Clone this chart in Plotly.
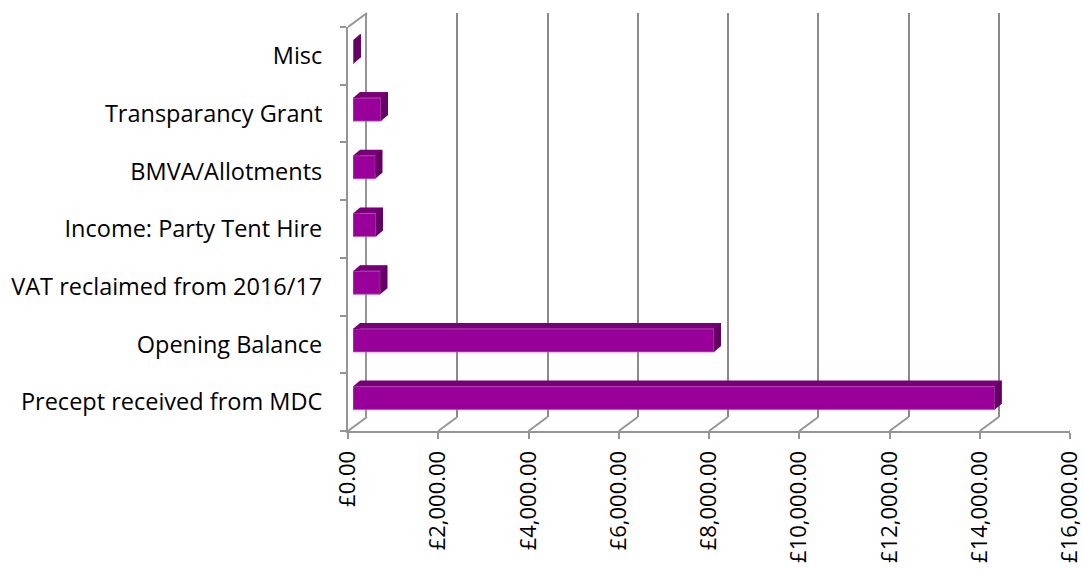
import plotly.graph_objects as go

# ---- data ----
categories = ["Precept received from MDC", "Opening Balance", "VAT reclaimed from 2016/17",
              "Income: Party Tent Hire", "BMVA/Allotments", "Transparancy Grant", "Misc"]
values = [14220, 8000, 605, 510, 494, 620, 15]
tick_values = [0, 2000, 4000, 6000, 8000, 10000, 12000, 14000, 16000]
tick_labels = ["£0.00", "£2,000.00", "£4,000.00", "£6,000.00", "£8,000.00",
               "£10,000.00", "£12,000.00", "£14,000.00", "£16,000.00"]

# ---- geometry ----
W, H = 1084, 569
X0, X1 = 348, 1070          # front plane: pixel of 0 and of 16000
Y0, Y1 = 27, 431            # front plane: top & bottom of category band
XMAX = 16000
S = (X1 - X0) / XMAX        # px per pound
N = len(categories)
BAR_W = 0.4
FRONT_COL = "#990099"
TOP_COL = "#760076"
SIDE_COL = "#640064"
LINE_COL = "#959595"
FONT = "Open Sans"

def xdom(dx):
    left = X0 + dx
    right = min(X1 + dx, W)
    return [left / W, right / W], [0, (right - left) / S]

def ydom(dy):
    top, bot = Y0 + dy, Y1 + dy
    return [1 - bot / H, 1 - top / H]

planes = {"": (19, -14), "2": (12, -10), "3": (5, -4), "4": (0, 0)}

fig = go.Figure()

# back wall helper trace (invisible)
fig.add_trace(go.Scatter(x=[0], y=[0.5], mode="markers", marker=dict(opacity=0),
                         xaxis="x", yaxis="y", hoverinfo="skip", showlegend=False))
# bar back (top faces)
fig.add_trace(go.Bar(y=categories, x=values, orientation="h", width=BAR_W,
                     marker=dict(color=TOP_COL, line=dict(width=0)),
                     xaxis="x2", yaxis="y2", showlegend=False))
# bar front faces
fig.add_trace(go.Bar(y=categories, x=values, orientation="h", width=BAR_W,
                     marker=dict(color=FRONT_COL, line=dict(color="#c25cc2", width=0.8)),
                     xaxis="x3", yaxis="y3", showlegend=False))
# front axes helper trace
fig.add_trace(go.Scatter(x=[0], y=[categories[0]], mode="markers", marker=dict(opacity=0),
                         xaxis="x4", yaxis="y4", hoverinfo="skip", showlegend=False))

layout = dict(width=W, height=H, margin=dict(l=0, r=0, t=0, b=0, autoexpand=False),
              paper_bgcolor="white", plot_bgcolor="rgba(0,0,0,0)",
              font=dict(family=FONT, size=20, color="#000000"), showlegend=False)

for k, (dx, dy) in planes.items():
    xd, xr = xdom(dx)
    yd = ydom(dy)
    xa = dict(domain=xd, range=xr, anchor="y" + k, showgrid=False, zeroline=False,
              showline=False, showticklabels=False, ticks="", fixedrange=True,
              automargin=False)
    ya = dict(domain=yd, anchor="x" + k, showgrid=False, zeroline=False,
              showline=False, showticklabels=False, ticks="", fixedrange=True,
              automargin=False)
    if k in ("2", "3", "4"):
        ya.update(type="category", categoryorder="array", categoryarray=categories,
                  range=[-0.5, N - 0.5])
    else:
        ya.update(range=[0, 1])
    layout["xaxis" + k] = xa
    layout["yaxis" + k] = ya

# back wall gridlines and left-wall back edge
layout["xaxis"].update(showgrid=True, gridcolor="#8a8a8a", gridwidth=2, tick0=0, dtick=2000)
layout["yaxis"].update(showline=True, linecolor=LINE_COL, linewidth=2)
# front axes
layout["xaxis4"].update(showline=True, linecolor=LINE_COL, linewidth=2, ticks="outside",
                        ticklen=6, tickwidth=2, tickcolor=LINE_COL, tickvals=tick_values,
                        ticktext=tick_labels, showticklabels=True,
                        tickangle=-90, ticklabelstandoff=3,
                        tickfont=dict(family=FONT, size=22, color="#000000"))
layout["yaxis4"].update(showline=True, linecolor=LINE_COL, linewidth=2, ticks="outside",
                        ticklen=6, tickwidth=2, tickcolor=LINE_COL, tickson="boundaries",
                        showticklabels=True, ticklabelstandoff=19,
                        tickfont=dict(family=FONT, size=23.5, color="#000000"))
for k in ("2", "3"):
    layout["xaxis" + k]["visible"] = False
    layout["yaxis" + k]["visible"] = False

fig.update_layout(**layout)

shapes = []
wdx, wdy = planes[""]
# floor diagonals from each front tick to back wall
for v in tick_values:
    shapes.append(dict(type="line", xref="x4", yref="paper", xsizemode="pixel",
                       ysizemode="pixel", xanchor=v, yanchor=1 - Y1 / H,
                       x0=0, x1=wdx, y0=0, y1=-wdy, line=dict(color=LINE_COL, width=2),
                       layer="below"))
# top diagonal of left wall
shapes.append(dict(type="line", xref="x4", yref="paper", xsizemode="pixel",
                   ysizemode="pixel", xanchor=0, yanchor=1 - Y0 / H,
                   x0=0, x1=wdx, y0=0, y1=-wdy, line=dict(color=LINE_COL, width=2),
                   layer="below"))

# bar faces completing the 3-D boxes
bdx = planes["2"][0] - planes["3"][0]
bdy = -(planes["2"][1] - planes["3"][1])
half = BAR_W / 2 * (Y1 - Y0) / N
for i, v in enumerate(values):
    # top-left corner of the top face
    p1 = f"M0,{half} L{bdx},{half + bdy} L{bdx},{half} Z"
    shapes.append(dict(type="path", xref="x3", yref="y3", xsizemode="pixel", ysizemode="pixel",
                       xanchor=0, yanchor=i, path=p1, fillcolor=TOP_COL,
                       line=dict(width=0), layer="above"))
    # side (end) face
    p2 = (f"M0,{-half} L{bdx},{-half + bdy} L{bdx},{half + bdy} L0,{half} Z")
    shapes.append(dict(type="path", xref="x3", yref="y3", xsizemode="pixel", ysizemode="pixel",
                       xanchor=v, yanchor=i, path=p2, fillcolor=SIDE_COL,
                       line=dict(width=0), layer="above"))
fig.update_layout(shapes=shapes)

fig.write_html("out.html", config={"displayModeBar": False},
               post_script="document.body.style.margin='0';"
                           "document.body.style.overflow='hidden';")
